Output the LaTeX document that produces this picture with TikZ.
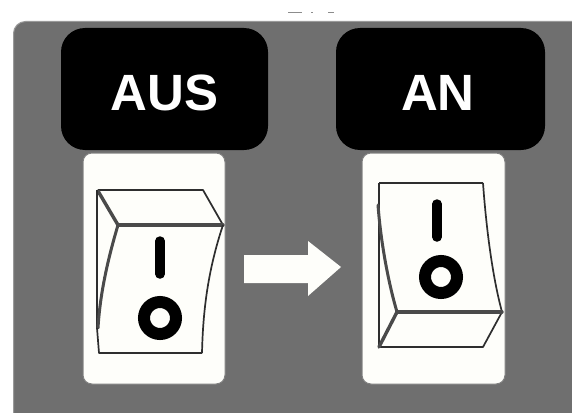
\documentclass[tikz,border=0pt]{standalone}
\usepackage{fontspec}
\setmainfont{Liberation Sans}
\definecolor{panelgray}{HTML}{6F6F6F}
\definecolor{cardwhite}{HTML}{FEFEFA}
\definecolor{linegray}{HTML}{2E2E2E}
\definecolor{stripgray}{HTML}{4A4A4A}
\tikzset{
  labelbox/.style={fill=black,rounded corners=24pt},
  card/.style={fill=cardwhite,draw=linegray!60,line width=1pt,rounded corners=9pt},
  rocker/.style={draw=linegray,line width=1.7pt,line join=round},
  edge rocker/.style={draw=stripgray,line width=3.4pt,line join=round,line cap=round},
  strip rocker/.style={draw=stripgray,line width=3pt,line cap=round},
  bar/.style={draw=black,line width=9.5pt,line cap=round},
  ring/.style={draw=black,line width=12pt},
  caption/.style={text=white,font=\fontsize{51}{51}\selectfont\bfseries,anchor=base,inner sep=0pt}
}
\begin{document}
\begin{tikzpicture}[x=1pt,y=-1pt]
\useasboundingbox (0,0) rectangle (572,412);
\fill[white] (0,0) rectangle (572,412);
% small remnant marks at the top
\fill[gray!90] (288,12) rectangle (302,13.2);
\fill[gray!90] (311,12) rectangle (313,13.2);
\fill[gray!90] (328,12) rectangle (334,13.2);
% panel
\fill[panelgray,draw=gray!80,line width=1pt,rounded corners=12pt] (13.5,430) -- (13.5,21.5) -- (590,21.5) -- (590,430) -- cycle;
% label boxes
\fill[labelbox] (61,28) rectangle (268,150);
\fill[labelbox] (336,28) rectangle (545,150);
\node[caption] (aus) at (164.5,110) {AUS};
\node[caption] (an) at (438,110) {AN};
% cards
\filldraw[card] (83,153) rectangle (225,384);
\filldraw[card] (362,153) rectangle (505,384);
% switch OFF
\draw[rocker] (98,190) -- (203,190) -- (223,225);
\draw[edge rocker] (98,191) -- (118,225);
\draw[edge rocker] (118,225) -- (223,225);
\draw[rocker] (97,190) -- (97,328);
\draw[strip rocker] (118,225) .. controls (107,262) and (100,295) .. (98,328);
\draw[rocker] (97,328) -- (99,353) -- (202,353);
\draw[rocker] (223,225) .. controls (208,270) and (203,310) .. (202,353);
\draw[bar] (160,241) -- (160,274);
\draw[ring] (160,318) circle[radius=16];
% switch ON
\draw[rocker] (379,183) -- (483,183);
\draw[rocker] (379,183) -- (379,347) -- (483,347) -- (502,312);
\draw[strip rocker] (378,205) .. controls (381,245) and (389,285) .. (397,312);
\draw[rocker] (483,183) .. controls (486,225) and (492,275) .. (502,312);
\draw[edge rocker] (397,312) -- (502,312);
\draw[edge rocker] (397,312) -- (379,347);
\draw[bar] (437,204) -- (437,237);
\draw[ring] (441,277) circle[radius=16];
% arrow
\fill[cardwhite] (244,255) -- (308,255) -- (308,241) -- (341,267) -- (308,296) -- (308,283) -- (244,283) -- cycle;
\end{tikzpicture}
\end{document}
